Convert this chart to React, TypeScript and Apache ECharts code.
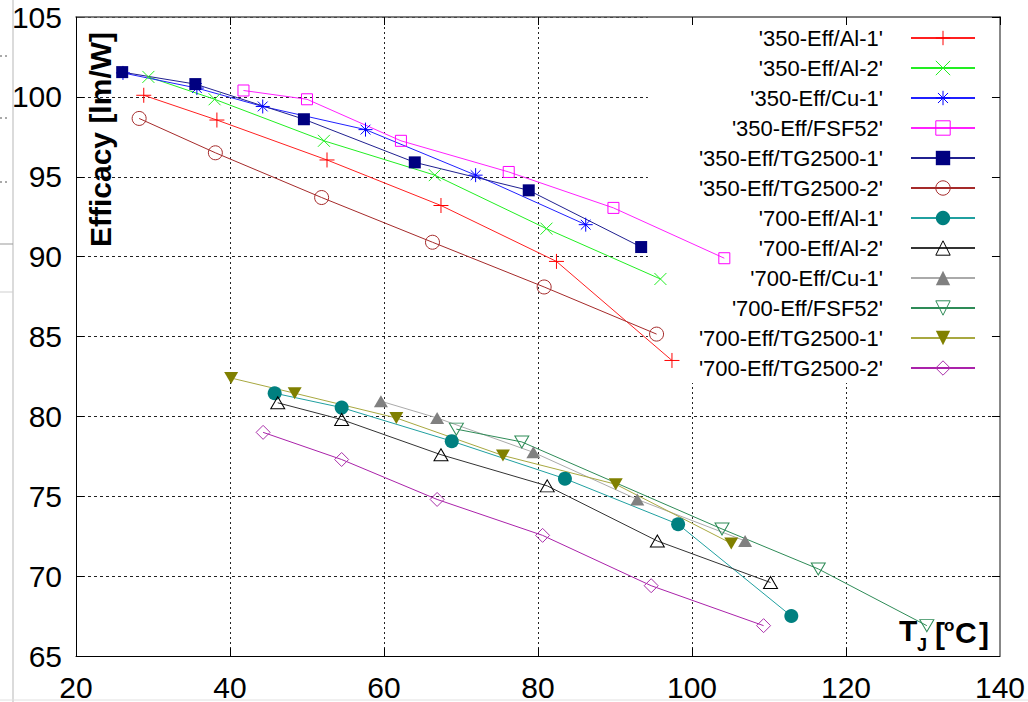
import React, { useEffect, useRef } from "react";
import * as echarts from "echarts";

const FONT = '"Liberation Sans", Arial, Helvetica, sans-serif';

// Tick values
const xTicksMin = 20;
const xTicksMax = 140;
const xTickStep = 20;
const yTicksMin = 65;
const yTicksMax = 105;
const yTickStep = 5;

// Series names (legend order)
const seriesNames = [
  "'350-Eff/Al-1'",
  "'350-Eff/Al-2'",
  "'350-Eff/Cu-1'",
  "'350-Eff/FSF52'",
  "'350-Eff/TG2500-1'",
  "'350-Eff/TG2500-2'",
  "'700-Eff/Al-1'",
  "'700-Eff/Al-2'",
  "'700-Eff/Cu-1'",
  "'700-Eff/FSF52'",
  "'700-Eff/TG2500-1'",
  "'700-Eff/TG2500-2'",
];

// Data: [T_J (°C), Efficacy (lm/W)]
const eff350Al1 = [[28.8, 100.1], [38.3, 98.55], [52.6, 96.05], [67.4, 93.2], [82.4, 89.7], [97.4, 83.5]];
const eff350Al2 = [[29.4, 101.25], [38.0, 99.85], [52.2, 97.25], [66.6, 95.1], [81.1, 91.75], [95.9, 88.6]];
const eff350Cu1 = [[26.1, 101.5], [35.7, 100.55], [44.25, 99.4], [57.6, 97.95], [71.9, 95.1], [86.2, 92.0]];
const eff350FSF52 = [[41.75, 100.4], [50.0, 99.85], [62.2, 97.25], [76.2, 95.3], [89.8, 93.05], [104.2, 89.9]];
const eff350TG1 = [[26.0, 101.55], [35.5, 100.8], [49.6, 98.6], [64.0, 95.9], [78.8, 94.15], [93.4, 90.6]];
const eff350TG2 = [[28.2, 98.65], [38.1, 96.5], [51.9, 93.7], [66.3, 90.9], [80.8, 88.1], [95.4, 85.15]];
const eff700Al1 = [[45.8, 81.45], [54.5, 80.55], [68.8, 78.45], [83.5, 76.1], [98.2, 73.25], [112.9, 67.5]];
const eff700Al2 = [[46.2, 80.85], [54.5, 79.8], [67.4, 77.6], [81.2, 75.65], [95.5, 72.2], [110.2, 69.6]];
const eff700Cu1 = [[59.6, 80.95], [66.9, 79.9], [79.4, 77.75], [92.9, 74.8], [106.9, 72.2]];
const eff700FSF52 = [[69.4, 79.2], [77.9, 78.4], [103.9, 72.95], [116.4, 70.45], [130.5, 66.9]];
const eff700TG1 = [[40.15, 82.4], [48.4, 81.45], [61.6, 79.9], [75.45, 77.55], [90.1, 75.75], [105.1, 72.05]];
const eff700TG2 = [[44.3, 79.0], [54.5, 77.3], [66.9, 74.8], [80.6, 72.55], [94.7, 69.4], [109.3, 66.9]];

const seriesData = [
  eff350Al1, eff350Al2, eff350Cu1, eff350FSF52, eff350TG1, eff350TG2,
  eff700Al1, eff700Al2, eff700Cu1, eff700FSF52, eff700TG1, eff700TG2,
];

const PLUS = "path://M5,0L5,10M0,5L10,5";
const CROSS = "path://M0,0L10,10M10,0L0,10";
const STAR = "path://M5,0L5,10M0,5L10,5M1.5,1.5L8.5,8.5M8.5,1.5L1.5,8.5";
const DOWN_TRI = "path://M0,0L10,0L5,8.66Z";

type Sty = { color: string; line: string; symbol: string; size: number | number[]; kind: "stroke" | "open" | "fill" };
const styles: Sty[] = [
  { color: "#ff0000", line: "#ff2020", symbol: PLUS, size: 15, kind: "stroke" },
  { color: "#22ee22", line: "#22ee22", symbol: CROSS, size: 12, kind: "stroke" },
  { color: "#0000ff", line: "#2020ff", symbol: STAR, size: 14, kind: "stroke" },
  { color: "#ff00ff", line: "#ff20ff", symbol: "rect", size: 11, kind: "open" },
  { color: "#000080", line: "#202090", symbol: "rect", size: 12, kind: "fill" },
  { color: "#a52a2a", line: "#a52a2a", symbol: "circle", size: 14, kind: "open" },
  { color: "#008080", line: "#20a0a0", symbol: "circle", size: 14, kind: "fill" },
  { color: "#000000", line: "#333333", symbol: "triangle", size: [14, 12], kind: "open" },
  { color: "#808080", line: "#aaaaaa", symbol: "triangle", size: [14, 12], kind: "fill" },
  { color: "#2e8b57", line: "#2e8b57", symbol: DOWN_TRI, size: [14, 12], kind: "open" },
  { color: "#808000", line: "#a8a840", symbol: DOWN_TRI, size: [14, 12], kind: "fill" },
  { color: "#aa30aa", line: "#aa22aa", symbol: "diamond", size: 14, kind: "open" },
];

export default function App() {
  const ref = useRef<HTMLDivElement>(null);
  useEffect(() => {
    if (!ref.current) return;
    const chart = echarts.init(ref.current, undefined, { renderer: "svg" });
    const series = seriesNames.map((name, i) => {
      const s = styles[i];
      const itemStyle: any =
        s.kind === "fill"
          ? { color: s.color, borderWidth: 0 }
          : s.kind === "open"
          ? { color: "rgba(0,0,0,0)", borderColor: s.color, borderWidth: 1 }
          : { color: s.color, borderColor: s.color, borderWidth: 1 };
      return {
        name,
        type: "line",
        data: seriesData[i],
        symbol: s.symbol,
        symbolSize: s.size,
        showSymbol: true,
        itemStyle,
        lineStyle: { color: s.line, width: 1 },
        emphasis: { disabled: true },
        z: 2,
      };
    });
    const grey = "#cfcfcf";
    const bold = (px: number) => `bold ${px}px ${FONT}`;
    chart.setOption({
      animation: false,
      backgroundColor: "#fff",
      textStyle: { fontFamily: FONT },
      grid: { left: 76, right: 25, top: 17, bottom: 46, show: false },
      xAxis: [
        {
          type: "value",
          position: "bottom",
          min: xTicksMin,
          max: xTicksMax,
          interval: xTickStep,
          z: 0,
          axisLine: { show: true, onZero: false, lineStyle: { color: "#000", width: 1 } },
          axisTick: { show: true, inside: true, length: 8, lineStyle: { color: "#000" } },
          axisLabel: { fontSize: 30, color: "#000", margin: 16, fontFamily: FONT },
          splitLine: { show: true, lineStyle: { color: "#222", width: 1, type: [2, 3] } },
        },
        {
          type: "value",
          position: "top",
          min: xTicksMin,
          max: xTicksMax,
          interval: xTickStep,
          z: 3,
          axisLine: { show: true, onZero: false, lineStyle: { color: "#555", width: 1.5 } },
          axisTick: { show: true, inside: true, length: 8, lineStyle: { color: "#000" } },
          axisLabel: { show: false },
          splitLine: { show: false },
        },
      ],
      yAxis: [
        {
          type: "value",
          position: "left",
          min: yTicksMin,
          max: yTicksMax,
          interval: yTickStep,
          z: 0,
          axisLine: { show: true, onZero: false, lineStyle: { color: "#000", width: 1 } },
          axisTick: { show: true, inside: true, length: 8, lineStyle: { color: "#000" } },
          axisLabel: { fontSize: 30, color: "#000", margin: 14, fontFamily: FONT, padding: [8, 0, 0, 0] },
          splitLine: { show: true, lineStyle: { color: "#222", width: 1, type: [3, 3] } },
        },
        {
          type: "value",
          position: "right",
          min: yTicksMin,
          max: yTicksMax,
          interval: yTickStep,
          z: 3,
          axisLine: { show: true, onZero: false, lineStyle: { color: "#888", width: 2 } },
          axisTick: { show: true, inside: true, length: 8, lineStyle: { color: "#000" } },
          axisLabel: { show: false },
          splitLine: { show: false },
        },
      ],
      legend: {
        orient: "vertical",
        right: 25,
        top: 17,
        align: "right",
        padding: [10, 27, 4, 51],
        itemGap: 8,
        itemWidth: 64,
        itemHeight: 18,
        backgroundColor: "#fff",
        z: 1,
        selectedMode: false,
        textStyle: { fontSize: 22, color: "#000", fontFamily: FONT, padding: [0, 23, 0, 0] },
        itemStyle: { borderWidth: 1 },
        data: seriesNames,
      },
      graphic: [
        {
          type: "text",
          x: 100,
          y: 139.5,
          rotation: Math.PI / 2,
          z: 5,
          style: { text: "Efficacy [lm/W]", font: bold(30), align: "center", verticalAlign: "middle", fill: "#000" },
        },
        { type: "text", x: 899, y: 630, z: 5, style: { text: "T", font: bold(30), align: "left", verticalAlign: "middle", fill: "#000" } },
        { type: "text", x: 917, y: 645, z: 5, style: { text: "J", font: bold(18), align: "left", verticalAlign: "middle", fill: "#000" } },
        { type: "text", x: 935, y: 633, z: 5, style: { text: "[", font: bold(30), align: "left", verticalAlign: "middle", fill: "#000" } },
        { type: "text", x: 944, y: 625, z: 5, style: { text: "o", font: bold(17), align: "left", verticalAlign: "middle", fill: "#000" } },
        { type: "text", x: 955, y: 632, z: 5, style: { text: "C", font: bold(30), align: "left", verticalAlign: "middle", fill: "#000" } },
        { type: "text", x: 979, y: 633, z: 5, style: { text: "]", font: bold(30), align: "left", verticalAlign: "middle", fill: "#000" } },
        // background window artifacts at the left edge
        { type: "line", z: 5, shape: { x1: 13, y1: 0, x2: 13, y2: 702 }, style: { stroke: grey, lineWidth: 1.5 } },
        { type: "line", z: 5, shape: { x1: 0, y1: 244, x2: 13, y2: 244 }, style: { stroke: "#999", lineWidth: 1 } },
        { type: "line", z: 5, shape: { x1: 0, y1: 292, x2: 13, y2: 292 }, style: { stroke: grey, lineWidth: 1 } },
        { type: "line", z: 5, shape: { x1: 0, y1: 56, x2: 9, y2: 56 }, style: { stroke: "#555", lineWidth: 1, lineDash: [2, 3] } },
        { type: "line", z: 5, shape: { x1: 0, y1: 118, x2: 9, y2: 118 }, style: { stroke: "#555", lineWidth: 1, lineDash: [2, 3] } },
        { type: "line", z: 5, shape: { x1: 0, y1: 182, x2: 9, y2: 182 }, style: { stroke: "#555", lineWidth: 1, lineDash: [2, 3] } },
        { type: "line", z: 5, shape: { x1: 0, y1: 700, x2: 1028, y2: 700 }, style: { stroke: "#e0e0e0", lineWidth: 1 } },
      ],
      series,
    });
    return () => chart.dispose();
  }, []);
  return <div ref={ref} style={{ position: "fixed", left: 0, top: 0, width: 1028, height: 702 }} />;
}
